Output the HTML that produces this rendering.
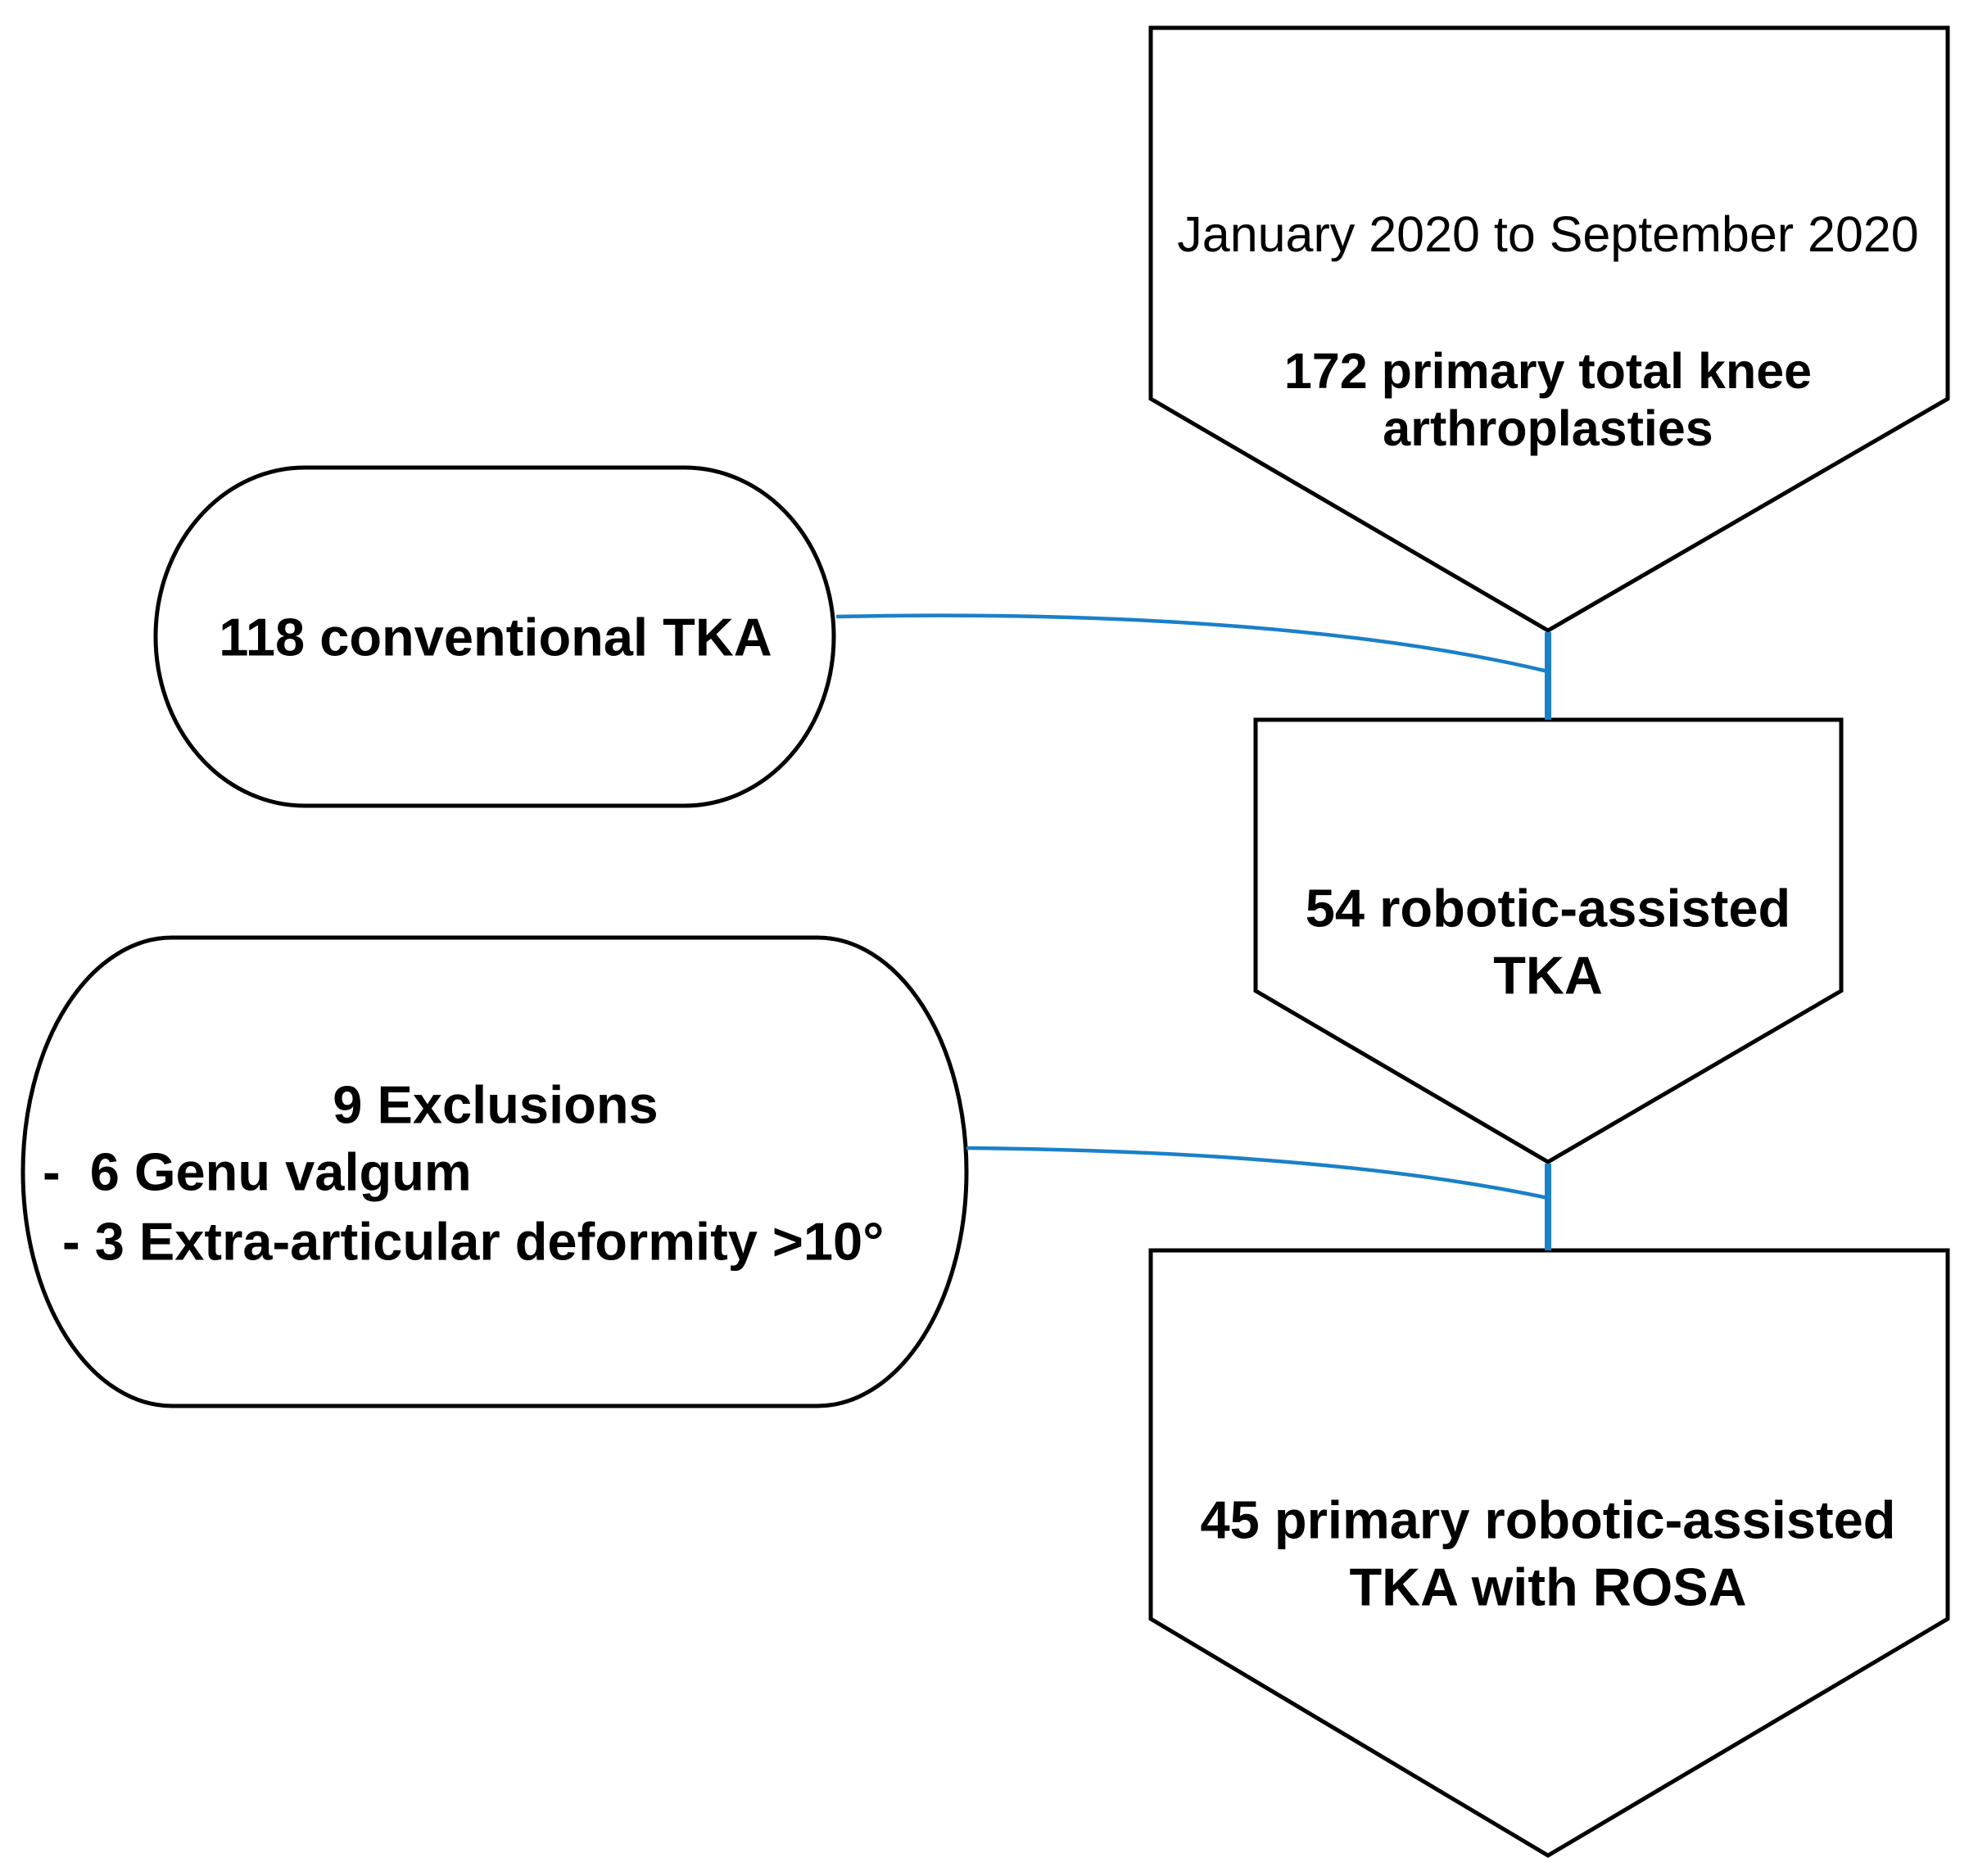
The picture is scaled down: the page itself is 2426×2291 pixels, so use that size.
<!DOCTYPE html>
<html><head><meta charset="utf-8"><style>
html,body{margin:0;padding:0;background:#fff;}
svg{display:block;}
text{font-family:"Liberation Sans",Arial,sans-serif;fill:#000;}
</style></head><body>
<svg width="2426" height="2291" viewBox="0 0 2426 2291" xmlns="http://www.w3.org/2000/svg">
<g fill="#fff" stroke="#000" stroke-width="5" stroke-linejoin="miter">
<polygon points="1405,34 2378,34 2378,487 1890,770 1405,487"/>
<polygon points="1533,879 2248,879 2248,1210 1890,1419 1533,1210"/>
<polygon points="1405,1527 2378,1527 2378,1977 1890,2266 1405,1977"/>
<path d="M372,571 H836 A182,206.5 0 0 1 836,984 H372 A182,206.5 0 0 1 372,571 Z"/>
<path d="M210,1145 H998 A182,286 0 0 1 998,1717 H210 A182,286 0 0 1 210,1145 Z"/>
</g>
<g fill="none" stroke="#1a80c8">
<path d="M1021,753 C1390,745 1690,772 1890,820" stroke-width="4.5"/>
<line x1="1890" y1="772" x2="1890" y2="879" stroke-width="8"/>
<path d="M1180,1402 C1490,1405 1725,1428 1890,1463" stroke-width="4.5"/>
<line x1="1890" y1="1421" x2="1890" y2="1527" stroke-width="8"/>
</g>
<g text-anchor="middle" dominant-baseline="central">
<text x="1890" y="286" font-size="61">January 2020 to September 2020</text>
<text x="1890" y="453" font-size="61" font-weight="bold">172 primary total knee</text>
<text x="1890" y="523" font-size="61" font-weight="bold">arthroplasties</text>
<text x="605" y="778" font-size="65" font-weight="bold">118 conventional TKA</text>
<text x="1890" y="1109" font-size="65" font-weight="bold">54 robotic-assisted</text>
<text x="1890" y="1191" font-size="65" font-weight="bold">TKA</text>
<text x="605" y="1349" font-size="65" font-weight="bold">9 Exclusions</text>
<text x="1890" y="1856" font-size="65" font-weight="bold">45 primary robotic-assisted</text>
<text x="1890" y="1938" font-size="65" font-weight="bold">TKA with ROSA</text>
</g>
<g dominant-baseline="central" font-size="65" font-weight="bold">
<text x="52" y="1431">-&#160;&#160;6 Genu valgum</text>
<text x="76" y="1516">-&#160;3 Extra-articular deformity &gt;10°</text>
</g>
</svg>
</body></html>
